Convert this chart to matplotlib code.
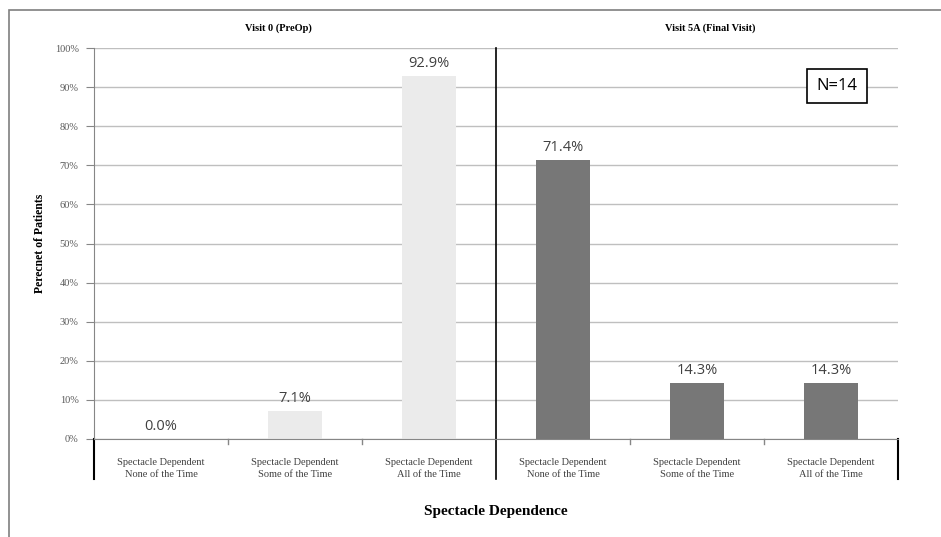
import matplotlib.pyplot as plt
from matplotlib.patches import Rectangle

# data
visits = ["Visit 0 (PreOp)", "Visit 5A (Final Visit)"]
categories = ["Spectacle Dependent\nNone of the Time",
              "Spectacle Dependent\nSome of the Time",
              "Spectacle Dependent\nAll of the Time"]
preop = [0.0, 7.1, 92.9]
final = [71.4, 14.3, 14.3]
yticks = [0, 10, 20, 30, 40, 50, 60, 70, 80, 90, 100]

serif = "Liberation Serif"
sans = "Open Sans"

fig = plt.figure(figsize=(9.41, 5.37), dpi=100)
ax = fig.add_axes([94/941, 1-439/537, (898-94)/941, (439-48)/537])

# outer chart frame
fig.patches.append(Rectangle((9/941, -0.05), 1.0, 1-10/537+0.05, transform=fig.transFigure,
                             fill=False, edgecolor="#7f7f7f", linewidth=1.2))

xs = [i + 0.5 for i in range(6)]
vals = preop + final
cols = ["#ebebeb"]*3 + ["#777777"]*3
ax.bar(xs, vals, width=0.4, color=cols, zorder=2)
for x, v in zip(xs, vals):
    ax.text(x, v + 1.3, "%.1f%%" % v, ha="center", va="bottom", fontsize=10.5,
            color="#404040", family=sans)

ax.set_xlim(0, 6)
ax.set_ylim(0, 100)
ax.set_yticks(yticks)
ax.set_yticklabels(["%d%%" % t for t in yticks], family=serif, fontsize=7.5, color="#595959")
ax.yaxis.grid(True, color="#bfbfbf", linewidth=1, zorder=0)
ax.tick_params(axis="y", length=6, color="#868686", pad=5)
ax.set_xticks([])
for s in ["top", "right"]:
    ax.spines[s].set_visible(False)
ax.spines["left"].set_color("#868686")
ax.spines["bottom"].set_color("#868686")

# category labels
for i, x in enumerate(xs):
    ax.text(x, -4.9, categories[i % 3], ha="center", va="top", fontsize=7.5,
            family=serif, color="#404040", linespacing=1.4)

# group divider lines and small ticks
tr = ax.get_xaxis_transform()
ax.plot([3, 3], [-0.103, 1.0], transform=tr, color="black", linewidth=1.2, clip_on=False)
ax.plot([0, 0], [-0.103, 0], transform=tr, color="black", linewidth=1.5, clip_on=False)
ax.plot([6, 6], [-0.103, 0], transform=tr, color="black", linewidth=1.5, clip_on=False)
for x in [1, 2, 4, 5]:
    ax.plot([x, x], [-0.012, 0], transform=tr, color="#868686", linewidth=1, clip_on=False)

# group titles
ax.text(1.38, 1.05, visits[0], transform=tr, ha="center", va="center", fontsize=7.5,
        family=serif, fontweight="bold")
ax.text(4.6, 1.05, visits[1], transform=tr, ha="center", va="center", fontsize=7.5,
        family=serif, fontweight="bold")

ax.set_ylabel("Perecnet of Patients", family=serif, fontsize=8.5, fontweight="bold", labelpad=6)
fig.text(496/941, 1-511/537, "Spectacle Dependence", ha="center", va="center",
         family=serif, fontsize=11, fontweight="bold")

ax.text(5.545, 90.3, "N=14", ha="center", va="center", fontsize=12, family=sans,
        bbox=dict(boxstyle="square,pad=0.55", facecolor="white", edgecolor="black", linewidth=1.2),
        zorder=5)

fig.savefig("out.png", dpi=100)
